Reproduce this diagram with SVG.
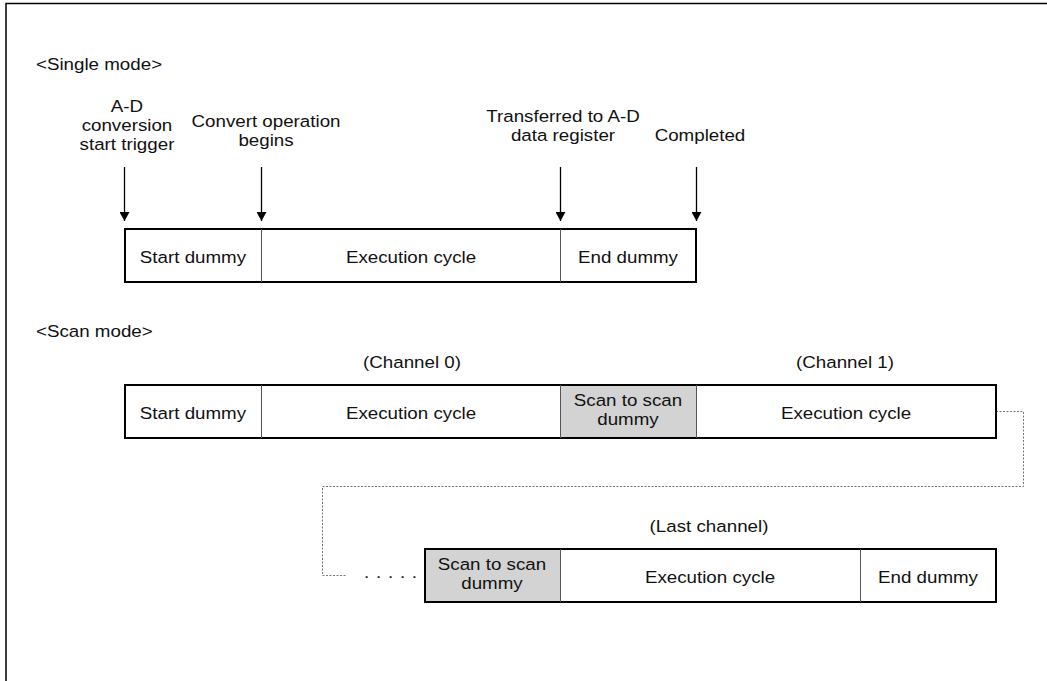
<svg xmlns="http://www.w3.org/2000/svg" width="1047" height="681" viewBox="0 0 1047 681">
<style>
text{font-family:"Liberation Sans",Arial,sans-serif;font-size:17.2px;fill:#111;transform:scale(1.09,1)}
.c{text-anchor:middle}
.box{fill:#fff;stroke:#000;stroke-width:2}
.div{stroke:#555;stroke-width:1}
.gray{fill:#d3d3d3}
.arr{stroke:#000;stroke-width:1.3;fill:none}
.dot{stroke:#777;stroke-width:1;stroke-dasharray:2 1.5;fill:none}
</style>
<defs>
<marker id="ah" markerWidth="9" markerHeight="10" refX="9" refY="5" orient="auto" markerUnits="userSpaceOnUse" viewBox="0 0 9 10">
<path d="M0,0 L9,5 L0,10 Z" fill="#000"/>
</marker>
</defs>
<rect width="1047" height="681" fill="#fff"/>
<path d="M6,681 V3.5 H1047" stroke="#000" stroke-width="1.5" fill="none"/>

<text x="33.03" y="70">&lt;Single mode&gt;</text>
<text x="33.03" y="337">&lt;Scan mode&gt;</text>

<g id="labels-single">
<text class="c" x="116.51" y="112">A-D</text>
<text class="c" x="116.51" y="131">conversion</text>
<text class="c" x="116.51" y="150">start trigger</text>
<text class="c" x="244.04" y="127">Convert operation</text>
<text class="c" x="244.04" y="146">begins</text>
<text class="c" x="516.51" y="122">Transferred to A-D</text>
<text class="c" x="516.51" y="141">data register</text>
<text class="c" x="642.2" y="141">Completed</text>
</g>

<g id="connectors">
<path class="arr" d="M124.5,167 V221" marker-end="url(#ah)"/>
<path class="arr" d="M261.5,167 V221" marker-end="url(#ah)"/>
<path class="arr" d="M560.5,167 V221" marker-end="url(#ah)"/>
<path class="arr" d="M696.5,167 V221" marker-end="url(#ah)"/>
<path class="dot" d="M996,411.5 H1023.5 V486.5 H322.5 V575.5 H347"/>
</g>

<g id="single-box">
<rect class="box" x="125" y="229" width="571" height="53"/>
<line class="div" x1="261.5" y1="229" x2="261.5" y2="282"/>
<line class="div" x1="560.5" y1="229" x2="560.5" y2="282"/>
<text class="c" x="177.06" y="263">Start dummy</text>
<text class="c" x="377.06" y="263">Execution cycle</text>
<text class="c" x="576.15" y="263">End dummy</text>
</g>

<g id="scan-box-1">
<text class="c" x="377.98" y="368">(Channel 0)</text>
<text class="c" x="775.23" y="368">(Channel 1)</text>
<rect class="box" x="125" y="385" width="871" height="53"/>
<rect class="gray" x="561" y="386" width="135" height="51"/>
<line class="div" x1="261.5" y1="385" x2="261.5" y2="438"/>
<line class="div" x1="560.5" y1="385" x2="560.5" y2="438"/>
<line class="div" x1="696.5" y1="385" x2="696.5" y2="438"/>
<text class="c" x="177.06" y="419">Start dummy</text>
<text class="c" x="377.06" y="419">Execution cycle</text>
<text class="c" x="576.15" y="406.5">Scan to scan</text>
<text class="c" x="576.15" y="425.5">dummy</text>
<text class="c" x="776.15" y="419">Execution cycle</text>
</g>

<g id="scan-box-last">
<text x="333.94" y="578" letter-spacing="6.2">.....</text>
<text class="c" x="650.46" y="532">(Last channel)</text>
<rect class="box" x="425" y="549" width="571" height="53"/>
<rect class="gray" x="426" y="550" width="134" height="51"/>
<line class="div" x1="560.5" y1="549" x2="560.5" y2="602"/>
<line class="div" x1="860.5" y1="549" x2="860.5" y2="602"/>
<text class="c" x="451.38" y="570.5">Scan to scan</text>
<text class="c" x="451.38" y="589.5">dummy</text>
<text class="c" x="651.38" y="583">Execution cycle</text>
<text class="c" x="851.38" y="583">End dummy</text>
</g>
</svg>
